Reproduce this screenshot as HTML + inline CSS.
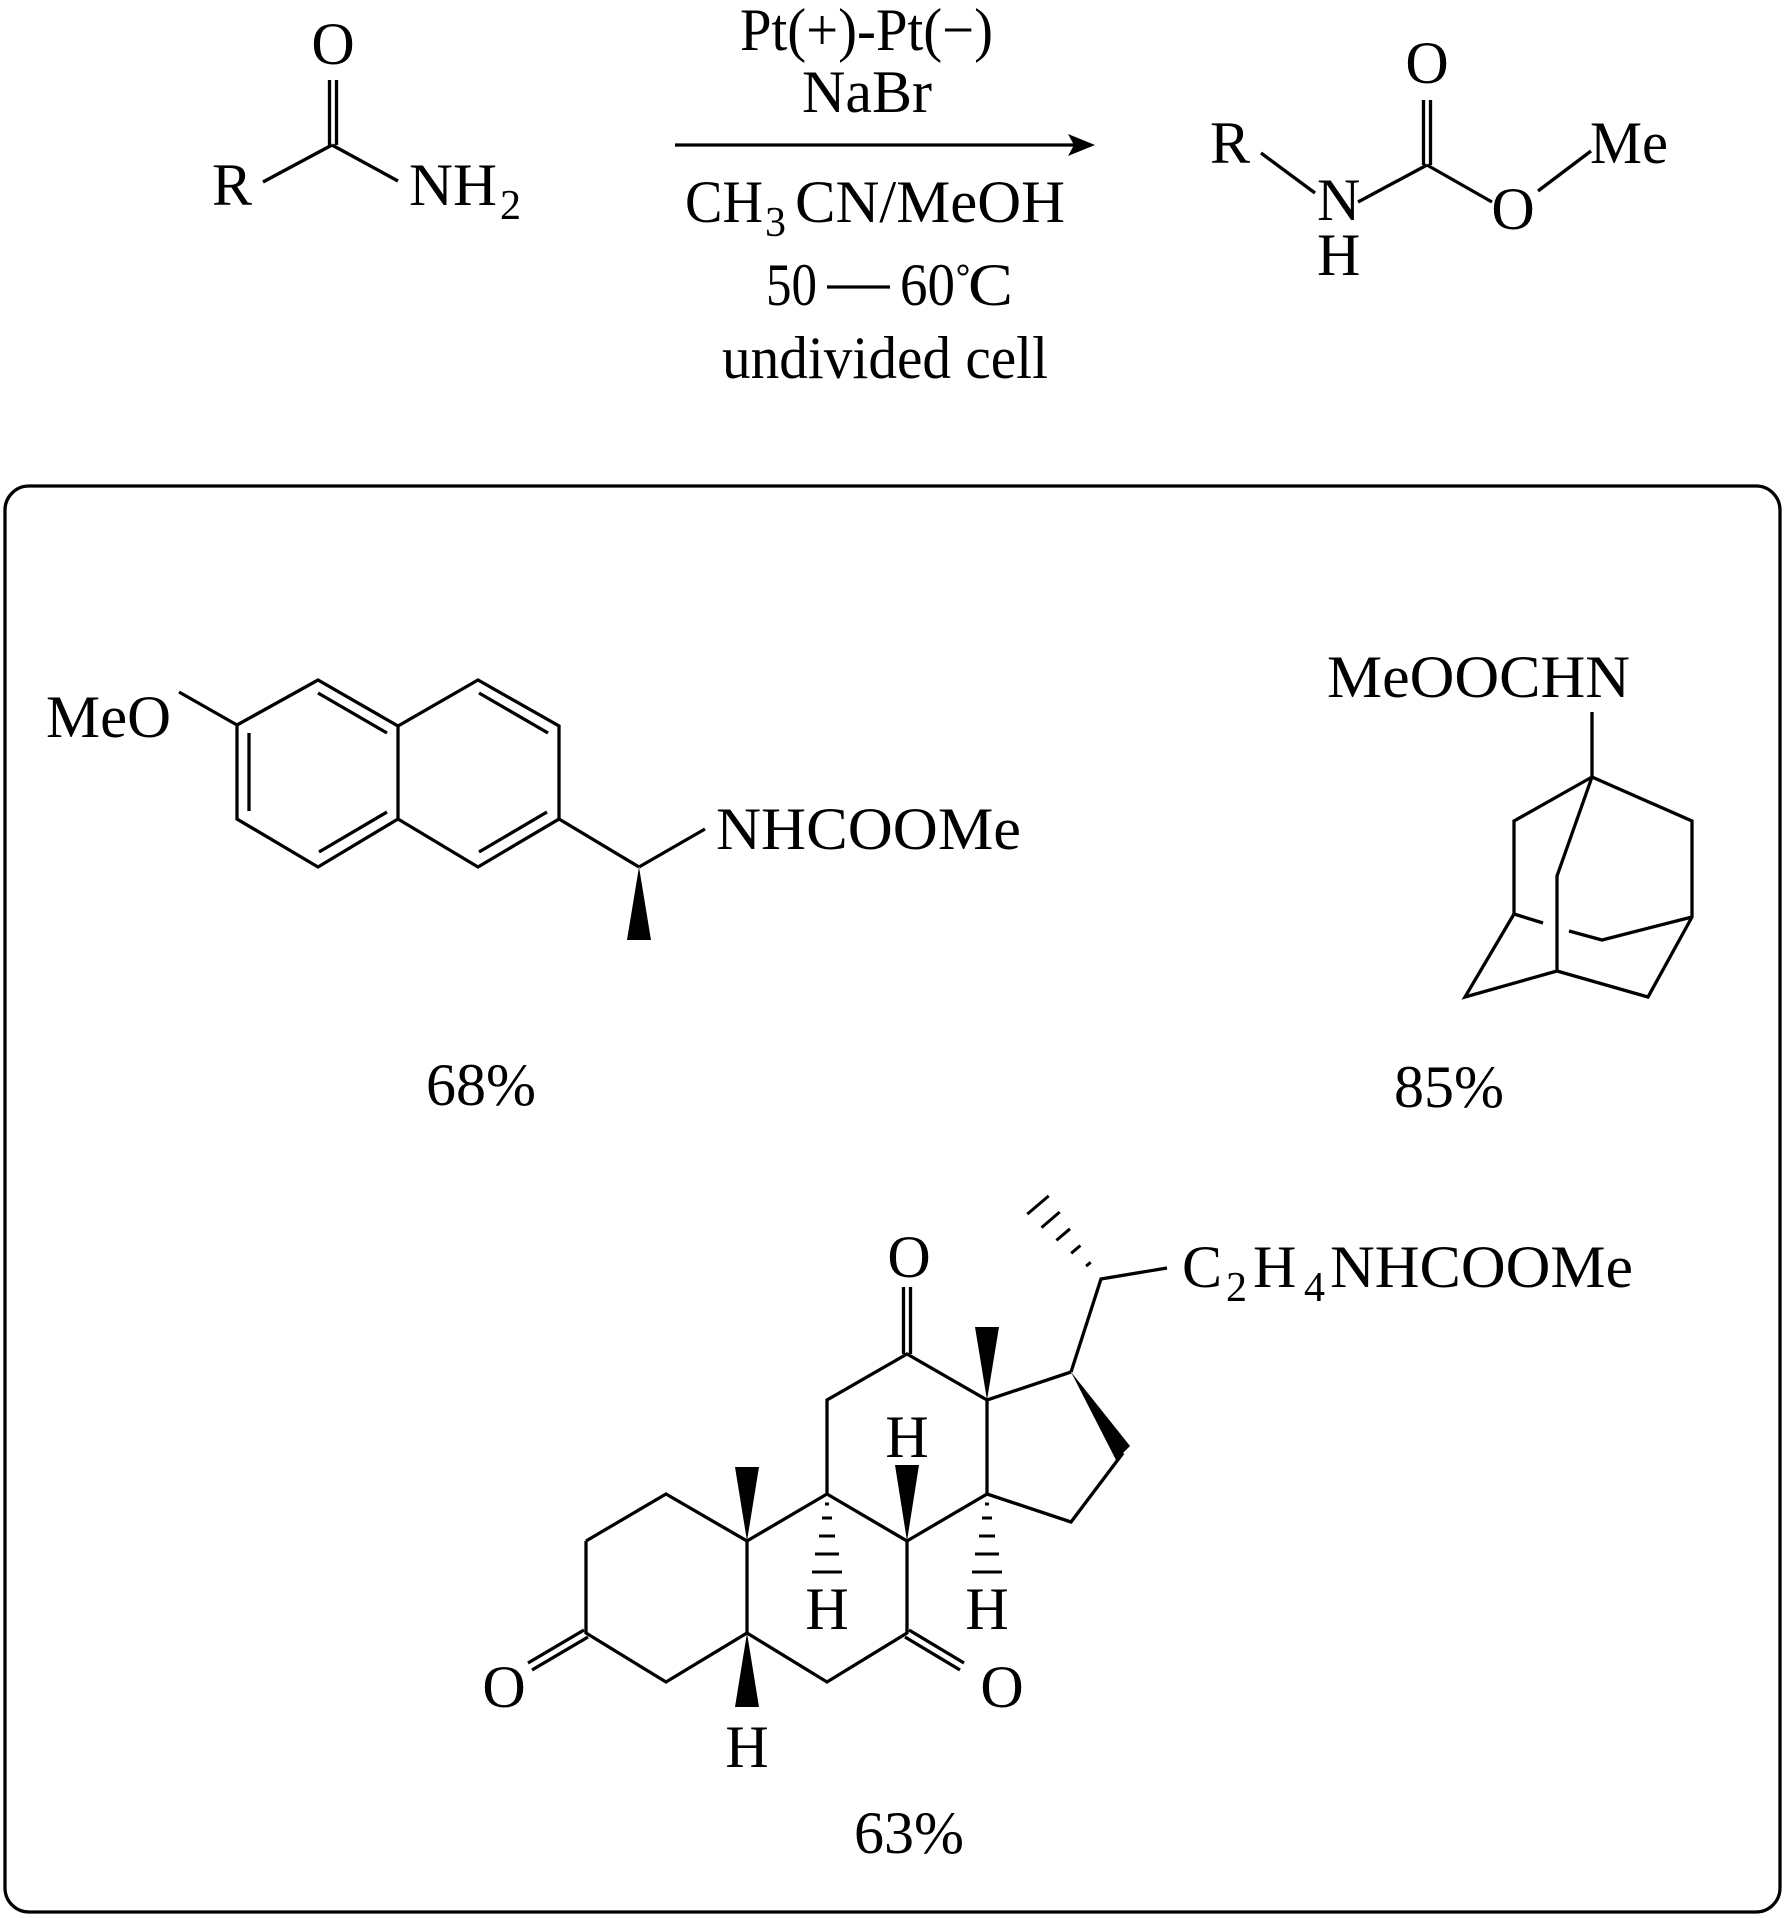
<!DOCTYPE html>
<html><head><meta charset="utf-8"><style>
html,body{margin:0;padding:0;background:#fff;}
svg{display:block;}
text{font-family:"Liberation Serif","Times New Roman",serif;fill:#000;}
</style></head><body>
<svg width="1785" height="1918" viewBox="0 0 1785 1918" xmlns="http://www.w3.org/2000/svg">
<g stroke="#000" stroke-width="3.3" fill="none" stroke-linecap="butt">
<line x1="263" y1="182" x2="332" y2="145"/>
<line x1="332" y1="145" x2="398" y2="181"/>
<line x1="329.5" y1="145" x2="329.5" y2="80"/>
<line x1="336.5" y1="145" x2="336.5" y2="80"/>
<line x1="675" y1="145" x2="1080" y2="145"/>
<line x1="827" y1="287" x2="890" y2="287"/>
<line x1="1261" y1="153" x2="1315" y2="193"/>
<line x1="1358" y1="202" x2="1427" y2="165"/>
<line x1="1427" y1="165" x2="1492" y2="202"/>
<line x1="1538" y1="191" x2="1591" y2="151"/>
<line x1="1423.5" y1="165" x2="1423.5" y2="100"/>
<line x1="1430.5" y1="165" x2="1430.5" y2="100"/>
<line x1="179" y1="692" x2="237" y2="725"/>
<polyline points="237,725 318,680 398,726 478,680 559,726 559,819 478,867 398,819 318,867 237,819 237,725"/>
<line x1="398" y1="726" x2="398" y2="819"/>
<line x1="249" y1="733" x2="249" y2="811"/>
<line x1="318" y1="693" x2="387" y2="733"/>
<line x1="319" y1="852" x2="387" y2="812"/>
<line x1="479" y1="693" x2="548" y2="733"/>
<line x1="479" y1="852" x2="547" y2="812"/>
<line x1="559" y1="819" x2="639" y2="867"/>
<line x1="639" y1="867" x2="705" y2="829"/>
<line x1="1592" y1="712" x2="1592" y2="777"/>
<polyline points="1592,777 1514,821 1514,914 1465,997 1557,971 1648,997 1692,917 1692,821 1592,777"/>
<polyline points="1592,777 1557,876 1557,971"/>
<polyline points="1692,917 1602,940 1569,931"/>
<line x1="1514" y1="914" x2="1543" y2="923"/>
<polyline points="586,1541 666,1494 747,1541 747,1633 666,1682 586,1633 586,1541"/>
<polyline points="747,1541 827,1494 907,1541 907,1633 827,1682 747,1633"/>
<polyline points="827,1494 827,1400 907,1354 987,1400 987,1494 907,1541"/>
<polyline points="987,1400 1071,1372"/>
<polyline points="1123,1453 1071,1522 987,1494"/>
<polyline points="1071,1372 1101,1279 1167,1268"/>
<line x1="584" y1="1630" x2="528" y2="1663"/>
<line x1="588" y1="1637" x2="532" y2="1670"/>
<line x1="909" y1="1630" x2="964" y2="1663"/>
<line x1="905" y1="1637" x2="960" y2="1670"/>
<line x1="903.5" y1="1354" x2="903.5" y2="1287"/>
<line x1="910.5" y1="1354" x2="910.5" y2="1287"/>
</g>
<g stroke="#000" stroke-width="3" fill="none">
<line x1="825" y1="1504" x2="829" y2="1504"/>
<line x1="822" y1="1518" x2="832" y2="1518"/>
<line x1="819" y1="1536" x2="835" y2="1536"/>
<line x1="815" y1="1554" x2="839" y2="1554"/>
<line x1="812" y1="1572" x2="842" y2="1572"/>
<line x1="985" y1="1504" x2="989" y2="1504"/>
<line x1="982" y1="1518" x2="992" y2="1518"/>
<line x1="979" y1="1536" x2="995" y2="1536"/>
<line x1="975" y1="1554" x2="999" y2="1554"/>
<line x1="972" y1="1572" x2="1002" y2="1572"/>
<line x1="1086.1" y1="1266.1" x2="1090.7" y2="1262.3"/>
<line x1="1071.2" y1="1253.3" x2="1080.4" y2="1245.5"/>
<line x1="1056.4" y1="1240.4" x2="1070" y2="1228.8"/>
<line x1="1041.5" y1="1227.6" x2="1059.7" y2="1212"/>
<line x1="1027.3" y1="1214.1" x2="1048.7" y2="1195.9"/>
</g>
<g fill="#000">
<polygon points="1095,145 1068,134 1074,145 1068,156"/>
<polygon points="639,867 627,940 651,940"/>
<polygon points="747,1541 735,1467 759,1467"/>
<polygon points="747,1633 735,1707 759,1707"/>
<polygon points="907,1541 895,1465 919,1465"/>
<polygon points="987,1400 975,1327 999,1327"/>
<polygon points="1071,1372 1116,1460 1130,1446"/>
</g>
<circle cx="963" cy="270" r="4.5" fill="none" stroke="#000" stroke-width="2"/>
<rect x="5" y="486" width="1775" height="1426" rx="24" ry="24" fill="none" stroke="#000" stroke-width="3.3"/>

<g font-size="60">
<text x="212" y="205">R</text>
<text x="333" y="64" text-anchor="middle">O</text>
<text x="409" y="205" textLength="88" lengthAdjust="spacingAndGlyphs">NH</text>
<text x="500" y="219" font-size="42">2</text>

<text x="740" y="50" textLength="253" lengthAdjust="spacingAndGlyphs">Pt(+)-Pt(−)</text>
<text x="867" y="112" text-anchor="middle">NaBr</text>
<text x="685" y="222" textLength="78" lengthAdjust="spacingAndGlyphs">CH</text>
<text x="765" y="236" font-size="42">3</text>
<text x="795" y="222" textLength="270" lengthAdjust="spacingAndGlyphs">CN/MeOH</text>
<text x="766" y="305" textLength="51" lengthAdjust="spacingAndGlyphs">50</text>
<text x="900" y="305" textLength="55" lengthAdjust="spacingAndGlyphs">60</text>
<text x="968" y="305" textLength="45" lengthAdjust="spacingAndGlyphs">C</text>
<text x="722" y="378" textLength="326" lengthAdjust="spacingAndGlyphs">undivided cell</text>

<text x="1210" y="163">R</text>
<text x="1427" y="83" text-anchor="middle">O</text>
<text x="1317" y="220">N</text>
<text x="1317" y="275">H</text>
<text x="1513" y="229" text-anchor="middle">O</text>
<text x="1590" y="163" textLength="78" lengthAdjust="spacingAndGlyphs">Me</text>

<text x="46" y="737" textLength="125" lengthAdjust="spacingAndGlyphs">MeO</text>
<text x="716" y="849" textLength="305" lengthAdjust="spacingAndGlyphs">NHCOOMe</text>
<text x="481" y="1105" text-anchor="middle">68%</text>
<text x="1327" y="697" textLength="303" lengthAdjust="spacingAndGlyphs">MeOOCHN</text>
<text x="1449" y="1107" text-anchor="middle">85%</text>

<text x="1182" y="1287">C</text>
<text x="1226" y="1301" font-size="42">2</text>
<text x="1253" y="1287">H</text>
<text x="1304" y="1301" font-size="42">4</text>
<text x="1330" y="1287" textLength="303" lengthAdjust="spacingAndGlyphs">NHCOOMe</text>
<text x="909" y="1277" text-anchor="middle">O</text>
<text x="504" y="1707" text-anchor="middle">O</text>
<text x="1002" y="1707" text-anchor="middle">O</text>
<text x="747" y="1767" text-anchor="middle">H</text>
<text x="827" y="1629" text-anchor="middle">H</text>
<text x="987" y="1629" text-anchor="middle">H</text>
<text x="907" y="1457" text-anchor="middle">H</text>
<text x="909" y="1853" text-anchor="middle">63%</text>
</g>
</svg>
</body></html>
